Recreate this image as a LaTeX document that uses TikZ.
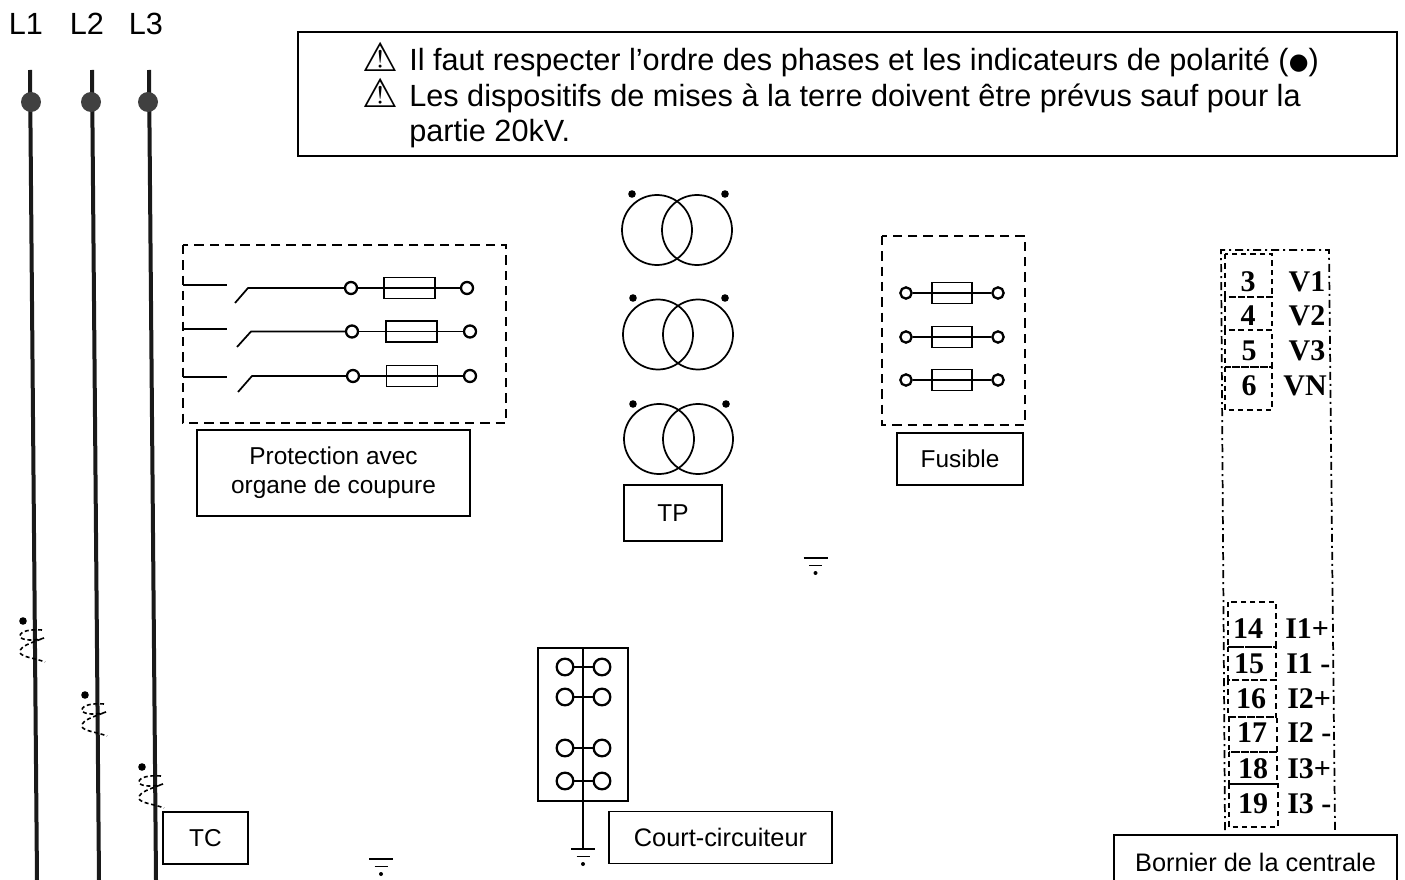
\documentclass[tikz,border=0pt]{standalone}
\usepackage{fontspec}
\setmainfont{Liberation Sans}
\newfontfamily\serifbold[BoldFont=Liberation Serif Bold]{Liberation Serif}
\newfontfamily\symbfont{DejaVu Sans}
\usepackage{xcolor}
\usetikzlibrary{positioning}
\tikzset{
  phase/.style={line width=3pt,color=black!90},
  thinline/.style={line width=1.3pt},
  elbox/.style={draw,line width=1.1pt,inner sep=0pt},
  lblbox/.style 2 args={draw,line width=1.1pt,inner sep=0pt,align=center,minimum width=#1*0.75pt,minimum height=#2*0.75pt,font=\fontsize{18.3}{21.5}\selectfont},
  termcirc/.style={draw,circle,line width=1.7pt,inner sep=0pt,minimum size=9pt},
  fusebox/.style 2 args={draw,line width=1.3pt,inner sep=0pt,minimum width=#1*0.75pt,minimum height=#2*0.75pt},
  dashbox/.style={line width=1.5pt,dash pattern=on 7pt off 4.5pt},
  termbox/.style={line width=1.2pt,dash pattern=on 4pt off 3pt},
  notetxt/.style={anchor=base west,inner sep=0pt,font=\fontsize{23}{26}\selectfont},
  warntxt/.style={anchor=base west,inner sep=0pt,font=\fontsize{30}{30}\selectfont\symbfont},
  termtxt/.style={inner sep=0pt,font=\fontsize{22.5}{26}\selectfont\serifbold\bfseries},
}
\begin{document}
\begin{tikzpicture}[x=0.75pt,y=0.75pt,yscale=-1,xscale=1]
  \useasboundingbox (0,0) rectangle (1405,880);
  \clip (0,0) rectangle (1405,880);
  % phases
  \foreach \ph/\xtop/\xdot/\xtxt/\xbot/\ypol in {1/30/31/26/37/621,2/92/91/87/99/695,3/149/148/146/156/767} {
    \node (name\ph) [inner sep=0pt,font=\fontsize{23}{26}\selectfont] at (\xtxt,24) {L\ph};
    \coordinate (top\ph) at (\xtop,70);
    \coordinate (bot\ph) at (\xbot,880);
    \draw [phase] (top\ph) -- (bot\ph);
    \node (pol\ph) [circle,fill=black!75,inner sep=0pt,minimum size=15pt] at (\xdot,102) {};
    % current transformer coil
    \fill (\xbot-14,\ypol) circle (3.8);
    \begin{scope}[shift={(\xbot-14,\ypol)}]
      \draw [line width=1.2pt,densely dashed] (19,9) .. controls (8,8) and (-3,10) .. (-3,15) .. controls (-3,20) and (14,20) .. (21,17) .. controls (8,22) and (-3,25) .. (-3,31) .. controls (-3,36) and (12,37) .. (22,41);
    \end{scope}
  }
  % note
  \node (notebox) [elbox,minimum width=824.25pt,minimum height=93pt] at (847.5,94) {};
  \node (warnone) [warntxt] at (362,72) {⚠};
  \node (warntwo) [warntxt] at (362,108) {⚠};
  \node (noteone) [notetxt] at (409,71) {Il faut respecter l’ordre des phases et les indicateurs de polarité ({\symbfont\fontsize{17}{17}\selectfont\raisebox{1pt}{●}})};
  \node (notetwo) [notetxt] at (409,107) {Les dispositifs de mises à la terre doivent être prévus sauf pour la};
  \node (notethree) [notetxt] at (409,142) {partie 20kV.};
  % protection
  \draw [dashbox] (183,245) rectangle (506,423);
  \foreach \rw/\ystub/\xa/\ya/\xb/\xc/\xf/\xd/\yc in {1/285/235/303/248/351/409.5/467/288,2/329/237/347/251/352/411.5/470/331.5,3/377/238/392/252/353/412/470/376} {
    \coordinate (stubl\rw) at (183,\ystub);
    \coordinate (stubr\rw) at (227,\ystub);
    \coordinate (bladea\rw) at (\xa,\ya);
    \coordinate (bladeb\rw) at (\xb,\yc);
    \node (cpl\rw) [termcirc] at (\xc,\yc) {};
    \node (cpr\rw) [termcirc] at (\xd,\yc) {};
    \node (cpf\rw) [fusebox={51}{21}] at (\xf,\yc) {};
    \draw [thinline] (stubl\rw) -- (stubr\rw);
    \draw [thinline] (bladea\rw) -- (bladeb\rw) -- (cpl\rw);
    \draw [thinline] (cpl\rw) -- (cpr\rw);
  }
  \node (protlbl) [lblbox={273}{86}] at (333.5,473) {Protection avec\\organe de coupure};
  % voltage transformers
  \foreach \xl/\xr/\yy/\xp/\xq/\yp in {657/697/230/632/725/194,658/698/334.5/633/725/298,659/698/439/633/726/404} {
    \draw [line width=1.3pt] (\xl,\yy) circle (35);
    \draw [line width=1.3pt] (\xr,\yy) circle (35);
    \fill (\xp,\yp) circle (3.8);
    \fill (\xq,\yp) circle (3.8);
  }
  \node (tplbl) [lblbox={98}{56}] at (673,513) {TP};
  % fuses
  \draw [dashbox] (882,236) rectangle (1025,425);
  \foreach \rw/\yy in {1/293,2/337,3/380} {
    \node (ful\rw) [termcirc,minimum size=8.5pt] at (906,\yy) {};
    \node (fur\rw) [termcirc,minimum size=8.5pt] at (998,\yy) {};
    \node (fuf\rw) [fusebox={40}{21}] at (952,\yy) {};
    \draw [thinline] (ful\rw) -- (fur\rw);
  }
  \node (fuslbl) [lblbox={126}{52}] at (960,459) {Fusible};
  % terminal block
  \coordinate (blka) at (1225,830);
  \coordinate (blkb) at (1221,250);
  \coordinate (blkc) at (1329,250);
  \coordinate (blkd) at (1335,830);
  \draw [line width=1.3pt,dash pattern=on 6pt off 3pt on 1.5pt off 3pt] (blka) -- (blkb) -- (blkc) -- (blkd);
  \foreach \num/\txt/\xl/\xr/\ytop/\ybot/\xn/\yn/\xv in {3/V1/1225/1272/254/297/1248/282/1307,4/V2/1225/1272/297/330/1248/316/1307,5/V3/1225/1272/330/367/1249/351/1307,6/VN/1225/1272/367/410/1249/386/1305} {
    \draw [termbox] (\xl,\ytop) rectangle (\xr,\ybot);
    \node (num\num) [termtxt] at (\xn,\yn) {\num};
    \node (sig\num) [termtxt] at (\xv,\yn) {\txt};
  }
  \foreach \num/\txt/\xl/\xr/\ytop/\ybot/\xn/\yn/\xv in {14/I1+/1228/1276/602/647/1248/629/1285,15/I1 -/1228/1276/647/680/1249/664/1286,16/I2+/1228/1276/680/717/1251/699/1287,17/I2 -/1229/1277/717/752/1252/733/1287,18/I3+/1229/1277/752/784/1253/769/1287,19/I3 -/1229/1278/784/827/1253/804/1287} {
    \draw [termbox] (\xl,\ytop) rectangle (\xr,\ybot);
    \node (num\num) [termtxt] at (\xn,\yn) {\num};
    \node (sig\num) [termtxt,anchor=west] at (\xv,\yn) {\txt};
  }
  \node (bornlbl) [lblbox={283}{54},font=\fontsize{19}{22}\selectfont] at (1255.5,862) {Bornier de la centrale};
  % short-circuit device
  \node (ccbox) [elbox,minimum width=67.5pt,minimum height=114.75pt] at (583,724.5) {};
  \coordinate (ccgnd) at (583,849);
  \draw [line width=1.4pt] (ccbox.north) -- (ccgnd);
  \foreach \yy in {667,697,748,781} {
    \node (ccl\yy) [termcirc,minimum size=12.5pt] at (565,\yy) {};
    \node (ccr\yy) [termcirc,minimum size=12.5pt] at (602,\yy) {};
    \draw [thinline] (ccl\yy) -- (ccr\yy);
  }
  \node (cclbl) [lblbox={223}{52},font=\fontsize{19}{22}\selectfont] at (720.5,837.5) {Court-circuiteur};
  \node (tclbl) [lblbox={85}{52}] at (205.5,838) {TC};
  % earth marks
  \foreach \xx/\yy in {583/849,381/859,815.5/558} {
    \draw [line width=1.5pt] (\xx-12,\yy) -- (\xx+12,\yy);
    \draw [line width=1.3pt] (\xx-6.5,\yy+7.5) -- (\xx+6.5,\yy+7.5);
    \fill (\xx,\yy+15) circle (2);
  }
\end{tikzpicture}
\end{document}
